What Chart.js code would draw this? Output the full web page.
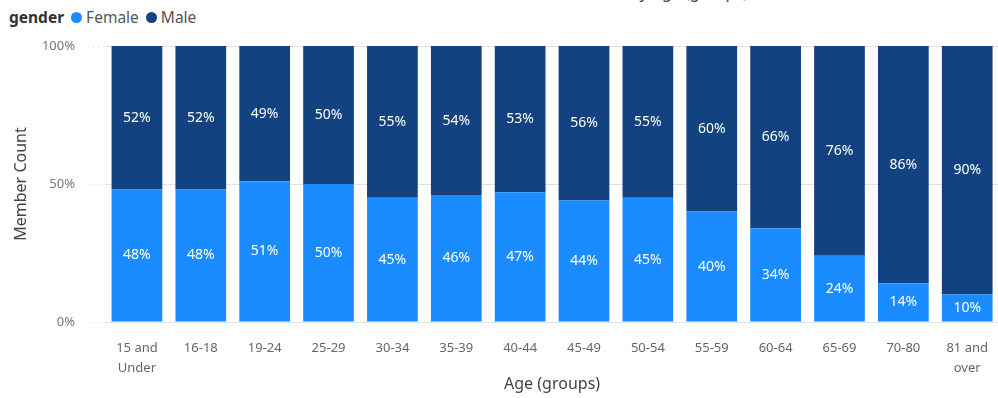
<!DOCTYPE html>
<html>
<head>
<meta charset="utf-8">
<script src="https://cdn.jsdelivr.net/npm/chart.js@4"></script>
<style>
  html, body { margin: 0; padding: 0; background: #fff; overflow: hidden; width: 998px; height: 398px; }
  #wrap { position: absolute; left: 0; top: 0; width: 1005px; height: 398px; }
  #legend { position: absolute; left: 9px; top: 6px; font-family: 'Noto Sans', sans-serif; font-size: 15.5px; color: #555; display: flex; align-items: center; white-space: nowrap; }
  #legend b { color: #333; margin-right: 7px; font-weight: 700; }
  #legend .dot { display: inline-block; width: 11px; height: 11px; border-radius: 50%; margin-right: 4px; }
  #legend .item { display: inline-flex; align-items: center; margin-right: 7px; }
  #title { position: absolute; left: 480px; width: 300px; text-align: center; top: -19px; font-family: 'Noto Sans', sans-serif; font-size: 16px; color: #444; }
</style>
</head>
<body>
<div id="title">Member Count by Age (groups)</div>
<div id="legend"></div>
<div id="wrap"><canvas id="c"></canvas></div>
<script>
const categories = [['15 and','Under'],'16-18','19-24','25-29','30-34','35-39','40-44','45-49','50-54','55-59','60-64','65-69','70-80',['81 and','over']];
const seriesNames = ['Female', 'Male'];
const femaleValues = [48, 48, 51, 50, 45, 46, 47, 44, 45, 40, 34, 24, 14, 10];
const maleValues   = [52, 52, 49, 50, 55, 54, 53, 56, 55, 60, 66, 76, 86, 90];
const yTicks = [0, 50, 100];
const colors = ['#1A8CFF', '#12427F'];

// HTML legend
const legend = document.getElementById('legend');
legend.innerHTML = '<b>gender</b>' + seriesNames.map((n, i) =>
  '<span class="item"><span class="dot" style="background:' + colors[i] + '"></span>' + n + '</span>').join('');

const FONT = "'Noto Sans', sans-serif";

const valueLabels = {
  id: 'valueLabels',
  afterDatasetsDraw(chart) {
    const ctx = chart.ctx;
    ctx.save();
    ctx.fillStyle = '#ffffff';
    ctx.font = '14px ' + FONT;
    ctx.textAlign = 'center';
    ctx.textBaseline = 'middle';
    chart.data.datasets.forEach((ds, di) => {
      const meta = chart.getDatasetMeta(di);
      meta.data.forEach((el, i) => {
        const y = (el.y + el.base) / 2;
        ctx.fillText(ds.data[i] + '%', el.x, y);
      });
    });
    ctx.restore();
  }
};

new Chart(document.getElementById('c'), {
  type: 'bar',
  data: {
    labels: categories,
    datasets: [
      { label: seriesNames[0], data: femaleValues, backgroundColor: colors[0], barPercentage: 0.794, categoryPercentage: 1 },
      { label: seriesNames[1], data: maleValues, backgroundColor: colors[1], barPercentage: 0.794, categoryPercentage: 1 }
    ]
  },
  options: {
    responsive: true,
    maintainAspectRatio: false,
    animation: false,
    layout: { padding: { top: 46, left: 0, right: 0, bottom: 0 } },
    plugins: { legend: { display: false }, tooltip: { enabled: false } },
    scales: {
      x: {
        stacked: true,
        grid: { display: false, drawTicks: false },
        border: { display: false },
        ticks: { color: '#666', font: { family: FONT, size: 13, lineHeight: 1.5 }, padding: 17, maxRotation: 0, autoSkip: false },
        title: { display: true, text: 'Age (groups)', color: '#444', font: { family: FONT, size: 16 }, padding: { top: 0, bottom: 4 } },
        afterFit(s) { s.height = 76; }
      },
      y: {
        stacked: true,
        min: 0, max: 100,
        afterBuildTicks(s) { s.ticks = yTicks.map(v => ({ value: v })); },
        grid: { color: '#e2e2e2', borderDash: [1, 4], tickLength: 17, tickColor: '#e2e2e2', tickBorderDash: [1, 4], drawTicks: true },
        border: { display: false },
        ticks: { color: '#777', font: { family: FONT, size: 13 }, padding: 13, callback: v => v + '%' },
        title: { display: true, text: 'Member Count', color: '#444', font: { family: FONT, size: 16 }, padding: { top: 12, bottom: 0 } },
        afterFit(s) { s.width = 105; }
      }
    }
  },
  plugins: [valueLabels]
});
</script>
</body>
</html>
